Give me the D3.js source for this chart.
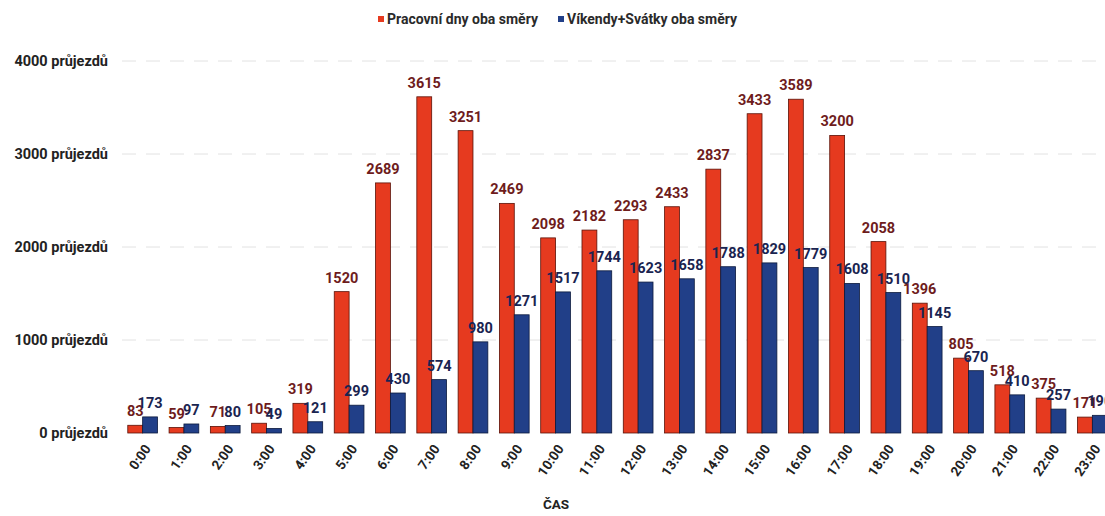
<!DOCTYPE html>
<html>
<head>
<meta charset="utf-8">
<script src="https://cdn.jsdelivr.net/npm/d3@7"></script>
<style>
  html, body { margin: 0; padding: 0; background: #fff; }
  svg { display: block; font-family: Roboto, "Liberation Sans", sans-serif; }
</style>
</head>
<body>
<div id="chart"></div>
<script>
// Hourly vehicle passages, both directions
const hours = ["0:00","1:00","2:00","3:00","4:00","5:00","6:00","7:00","8:00","9:00","10:00","11:00",
               "12:00","13:00","14:00","15:00","16:00","17:00","18:00","19:00","20:00","21:00","22:00","23:00"];
const workdays = [83, 59, 71, 105, 319, 1520, 2689, 3615, 3251, 2469, 2098, 2182,
                  2293, 2433, 2837, 3433, 3589, 3200, 2058, 1396, 805, 518, 375, 171];
const weekends = [173, 97, 80, 49, 121, 299, 430, 574, 980, 1271, 1517, 1744,
                  1623, 1658, 1788, 1829, 1779, 1608, 1510, 1145, 670, 410, 257, 190];
const seriesNames = ["Pracovní dny oba směry", "Víkendy+Svátky oba směry"];
const yTicks = [0, 1000, 2000, 3000, 4000];
const yUnit = "průjezdů";
const xTitle = "ČAS";

const W = 1105, H = 516;
const colors = ["#e63a1f", "#213f88"];
const edge = ["#5a1208", "#0c1a3d"];
const labelColors = ["#6e1c1c", "#1a2450"];

const svg = d3.select("#chart").append("svg").attr("width", W).attr("height", H);

const x0 = d3.scaleBand().domain(hours).range([122, 1113]).paddingInner(0.28).paddingOuter(0.14);
const x1 = d3.scaleBand().domain([0, 1]).range([0, x0.bandwidth()]);
const y = d3.scaleLinear().domain([0, 4000]).range([433, 61]);

// horizontal grid
svg.append("g")
  .selectAll("line").data(yTicks.slice(1)).join("line")
  .attr("x1", 122).attr("x2", W)
  .attr("y1", d => y(d)).attr("y2", d => y(d))
  .attr("stroke", "#e2e2e2").attr("stroke-width", 1).attr("stroke-dasharray", "14,10");

// y axis labels
const yAxis = d3.axisLeft(y).tickValues(yTicks).tickSize(0).tickPadding(0)
  .tickFormat(d => d + " " + yUnit);
svg.append("g").attr("transform", "translate(108,0)").call(yAxis)
  .call(g => g.select(".domain").remove())
  .selectAll("text")
  .attr("font-family", "Roboto, sans-serif").attr("font-size", 14.5).attr("font-weight", 700)
  .attr("fill", "#222");

// bars
const rows = hours.map((h, i) => ({ h, vals: [workdays[i], weekends[i]] }));
const groups = svg.append("g").selectAll("g").data(rows).join("g")
  .attr("transform", d => `translate(${x0(d.h)},0)`);

groups.selectAll("rect").data(d => d.vals.map((v, k) => ({ v, k }))).join("rect")
  .attr("x", d => x1(d.k)).attr("width", x1.bandwidth())
  .attr("y", d => y(d.v)).attr("height", d => y(0) - y(d.v))
  .attr("fill", d => colors[d.k])
  .attr("stroke", d => edge[d.k]).attr("stroke-width", 0.8);

// value labels
groups.selectAll("text").data(d => d.vals.map((v, k) => ({ v, k }))).join("text")
  .attr("x", d => x1(d.k) + x1.bandwidth() / 2)
  .attr("y", d => y(d.v) - 9)
  .attr("text-anchor", "middle")
  .attr("font-size", 14.5).attr("font-weight", 700)
  .attr("fill", d => labelColors[d.k])
  .text(d => d.v);

// x axis labels, rotated
const xAxis = d3.axisBottom(x0).tickSize(0).tickPadding(0);
svg.append("g").attr("transform", "translate(0,446)").call(xAxis)
  .call(g => g.select(".domain").remove())
  .selectAll("text")
  .attr("font-family", "Roboto, sans-serif").attr("font-size", 13.5).attr("font-weight", 700)
  .attr("fill", "#222")
  .attr("text-anchor", "end").attr("dy", "0.35em")
  .attr("transform", "translate(5,0) rotate(-55)");

// x title
svg.append("text").attr("x", 556).attr("y", 509).attr("text-anchor", "middle")
  .attr("font-size", 13.5).attr("font-weight", 700).attr("fill", "#222").text(xTitle);

// legend
const legend = svg.append("g").attr("transform", "translate(378,19)");
const lx = [0, 180];
seriesNames.forEach((name, k) => {
  legend.append("rect").attr("x", lx[k]).attr("y", -3).attr("width", 6).attr("height", 6).attr("fill", colors[k]);
  legend.append("text").attr("x", lx[k] + 9).attr("y", 0).attr("dy", "0.35em")
    .attr("font-size", 14).attr("font-weight", 700).attr("fill", "#2a2a2a").text(name);
});
</script>
</body>
</html>
